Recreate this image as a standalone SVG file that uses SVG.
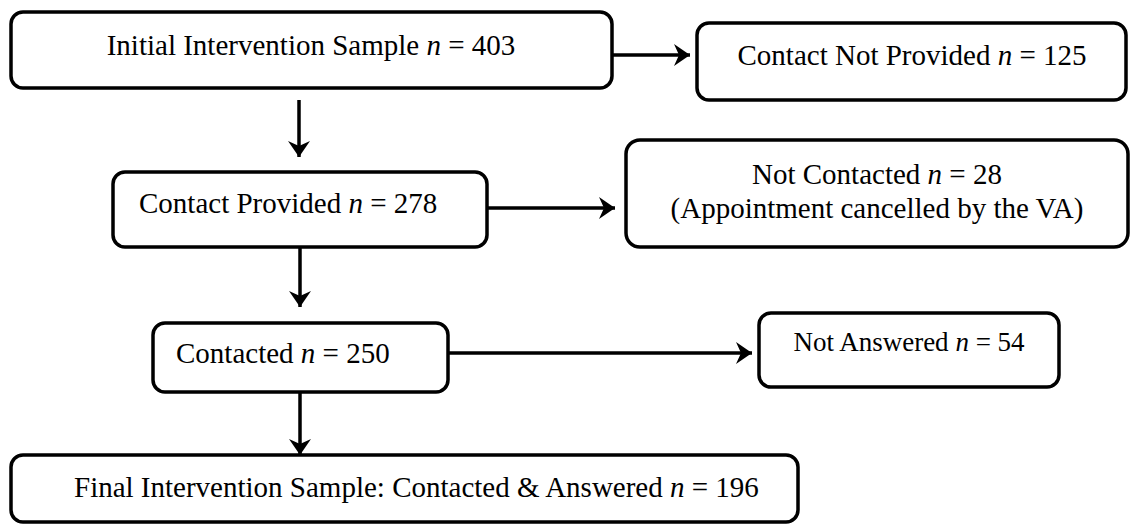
<svg xmlns="http://www.w3.org/2000/svg" width="1133" height="525" viewBox="0 0 1133 525">
<defs>
<marker id="ah" viewBox="0 0 16 22" refX="16" refY="11" markerWidth="16" markerHeight="22" markerUnits="userSpaceOnUse" orient="auto">
<path d="M0,0 L16,11 L0,22 L5,11 Z" fill="#000"/>
</marker>
</defs>
<style>
.box{fill:#fff;stroke:#000;stroke-width:3.5}
.t{font-family:"Liberation Serif","Times New Roman",serif;font-size:29px;fill:#000}
.s{font-size:27px}
.i{font-style:italic}
.c{stroke:#000;stroke-width:3.5;fill:none;marker-end:url(#ah)}
</style>
<rect width="1133" height="525" fill="#fff"/>
<g id="connectors">
<path class="c" d="M612,55 L690,55"/>
<path class="c" d="M299,100 L299,157"/>
<path class="c" d="M487,208 L615,208"/>
<path class="c" d="M300,248 L300,307"/>
<path class="c" d="M448,353 L752,353"/>
<path class="c" d="M300,392 L300,455"/>
</g>
<g id="n1">
<rect class="box" x="11" y="12" width="601" height="76" rx="12"/>
<text class="t" x="311" y="55" text-anchor="middle">Initial Intervention Sample <tspan class="i">n</tspan> = 403</text>
</g>
<g id="n2">
<rect class="box" x="697" y="23" width="429" height="77" rx="12"/>
<text class="t" x="912" y="65" text-anchor="middle">Contact Not Provided <tspan class="i">n</tspan> = 125</text>
</g>
<g id="n3">
<rect class="box" x="113" y="172" width="374" height="75" rx="12"/>
<text class="t" x="139" y="213">Contact Provided <tspan class="i">n</tspan> = 278</text>
</g>
<g id="n4">
<rect class="box" x="626" y="140" width="502" height="107" rx="14"/>
<text class="t" x="877" y="184" text-anchor="middle">Not Contacted <tspan class="i">n</tspan> = 28</text>
<text class="t" x="877" y="218" text-anchor="middle">(Appointment cancelled by the VA)</text>
</g>
<g id="n5">
<rect class="box" x="153" y="323" width="295" height="69" rx="12"/>
<text class="t" x="176" y="363">Contacted <tspan class="i">n</tspan> = 250</text>
</g>
<g id="n6">
<rect class="box" x="759" y="313" width="300" height="74" rx="12"/>
<text class="t s" x="909" y="351" text-anchor="middle">Not Answered <tspan class="i">n</tspan> = 54</text>
</g>
<g id="n7">
<rect class="box" x="11" y="455" width="787" height="67" rx="12"/>
<text class="t" x="74" y="497">Final Intervention Sample: Contacted &amp; Answered <tspan class="i">n</tspan> = 196</text>
</g>
</svg>
